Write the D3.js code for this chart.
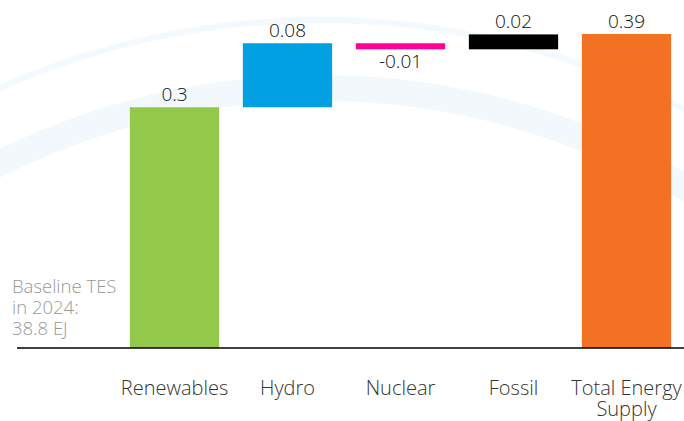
<!DOCTYPE html>
<html><head><meta charset="utf-8">
<script src="https://cdn.jsdelivr.net/npm/d3@7"></script>
<style>body{margin:0;background:#fff}svg{display:block}</style>
</head><body>
<svg id="c" width="684" height="421"></svg>
<script>
const categories = ["Renewables", "Hydro", "Nuclear", "Fossil", "Total Energy Supply"];
const changes = [0.299, 0.0795, -0.0075, 0.0185];
const total = 0.39;
const valueLabels = ["0.3", "0.08", "-0.01", "0.02", "0.39"];
const colors = ["#92c94a", "#00a0e3", "#ff0099", "#000000", "#f27123"];
const baselineNote = ["Baseline TES", "in 2024:", "38.8 EJ"];

const W = 684, H = 421;
const svg = d3.select("#c");
const font = "'Open Sans', 'Noto Sans', sans-serif";
const fw = 300;

// background decorative arcs
const bg = svg.append("g");
bg.append("circle").attr("cx", 320).attr("cy", 807).attr("r", 787)
  .attr("fill", "none").attr("stroke", "#f3f9fd").attr("stroke-width", 6);
bg.append("circle").attr("cx", 320).attr("cy", 807).attr("r", 719)
  .attr("fill", "none").attr("stroke", "#f2f8fc").attr("stroke-width", 26);

const x = d3.scaleBand().domain(categories).range([118, 683]).paddingInner(0.21).paddingOuter(0.105);
const y = d3.scaleLinear().domain([0, total]).range([348, 34]);

let cum = 0;
const segs = categories.map((c, i) => {
  if (i < changes.length) {
    const start = cum; cum += changes[i];
    return {cat: c, y0: start, y1: cum, v: changes[i], label: valueLabels[i], color: colors[i]};
  }
  return {cat: c, y0: 0, y1: total, v: total, label: valueLabels[i], color: colors[i]};
});

svg.append("g").selectAll("rect").data(segs).join("rect")
  .attr("x", d => x(d.cat)).attr("width", x.bandwidth())
  .attr("y", d => y(Math.max(d.y0, d.y1)))
  .attr("height", d => Math.abs(y(d.y0) - y(d.y1)))
  .attr("fill", d => d.color);

svg.append("g").selectAll("text").data(segs).join("text")
  .attr("x", d => x(d.cat) + x.bandwidth() / 2)
  .attr("y", d => d.v >= 0 ? y(Math.max(d.y0, d.y1)) - 6 : y(Math.min(d.y0, d.y1)) + 19)
  .attr("text-anchor", "middle")
  .attr("font-family", font).attr("font-weight", fw).attr("font-size", 19).attr("fill", "#111")
  .text(d => d.label);

const axis = d3.axisBottom(x).tickSize(0).tickPadding(0);
const ax = svg.append("g").attr("transform", `translate(0,${y(0)})`).call(axis);
ax.select(".domain").remove();
ax.append("line").attr("x1", 17).attr("x2", 684).attr("y1", 0).attr("y2", 0)
  .attr("stroke", "#000").attr("stroke-width", 1.5);
ax.selectAll(".tick text").each(function(d) {
  const t = d3.select(this);
  t.text(null).attr("font-family", font).attr("font-weight", fw).attr("font-size", 20).attr("fill", "#333").attr("y", 0).attr("dy", null);
  const lines = d === "Total Energy Supply" ? ["Total Energy", "Supply"] : [d];
  lines.forEach((l, i) => t.append("tspan").attr("x", 0).attr("y", 47 + i * 20.5).text(l));
});

svg.append("text").attr("font-family", font).attr("font-weight", fw).attr("font-size", 18.5).attr("fill", "#999")
  .selectAll("tspan").data(baselineNote).join("tspan")
  .attr("x", 12).attr("y", (d, i) => 293 + i * 21).text(d => d);
</script>
</body></html>
